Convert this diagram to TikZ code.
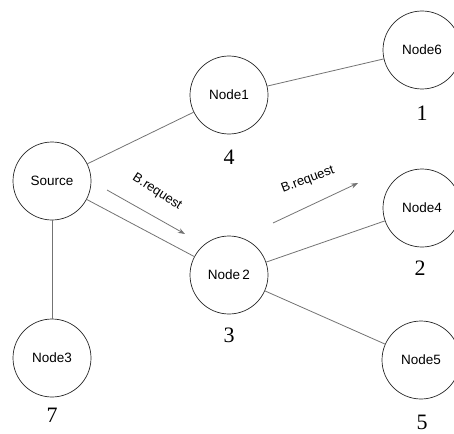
\documentclass[tikz,border=0pt]{standalone}
\usepackage{fontspec}
\setmainfont{Liberation Serif}
\newfontfamily\nodefont{Liberation Sans}
\usetikzlibrary{arrows.meta}
\begin{document}
\begin{tikzpicture}[x=1pt,y=-1pt,
  netnode/.style={circle,draw=black!85,line width=0.7pt,minimum size=78pt,inner sep=0pt,font=\nodefont\fontsize{13.5}{15}\selectfont},
  numlabel/.style={font=\fontsize{22}{24}\selectfont,inner sep=0pt},
  link/.style={draw=black!55,line width=0.8pt},
  reqarrow/.style={draw=black!55,line width=0.8pt,-{Stealth[length=7pt,width=5pt]}},
  reqlabel/.style={font=\nodefont\fontsize{13}{14}\selectfont,inner sep=0pt}]
\useasboundingbox (0,0) rectangle (454,433);
\node[netnode] (src) at (52,181) {Source};
\node[netnode] (n1) at (229,95) {Node1};
\node[netnode] (n6) at (422,50) {Node6};
\node[netnode] (n2) at (229,275) {Node\,2};
\node[netnode] (n4) at (422,208) {Node4};
\node[netnode] (n5) at (421,360) {Node5};
\node[netnode] (n3) at (52,358) {Node3};
\node[numlabel] (l4) at (229,157) {4};
\node[numlabel] (l1) at (422,113) {1};
\node[numlabel] (l3) at (229,335) {3};
\node[numlabel] (l2) at (420,268) {2};
\node[numlabel] (l5) at (422,422) {5};
\node[numlabel] (l7) at (52,415) {7};
\draw[link] (src) -- (n1);
\draw[link] (n1) -- (n6);
\draw[link] (src) -- (n2);
\draw[link] (n2) -- (n4);
\draw[link] (n2) -- (n5);
\draw[link] (src) -- (n3);
\coordinate (a1s) at (107,190);
\coordinate (a1e) at (185,234);
\coordinate (a2s) at (273,223);
\coordinate (a2e) at (358,183);
\draw[reqarrow] (a1s) -- (a1e);
\draw[reqarrow] (a2s) -- (a2e);
\node[reqlabel,rotate=-33] (r1) at (157,192) {B.request};
\node[reqlabel,rotate=21] (r2) at (308,180) {B.request};
\end{tikzpicture}
\end{document}
